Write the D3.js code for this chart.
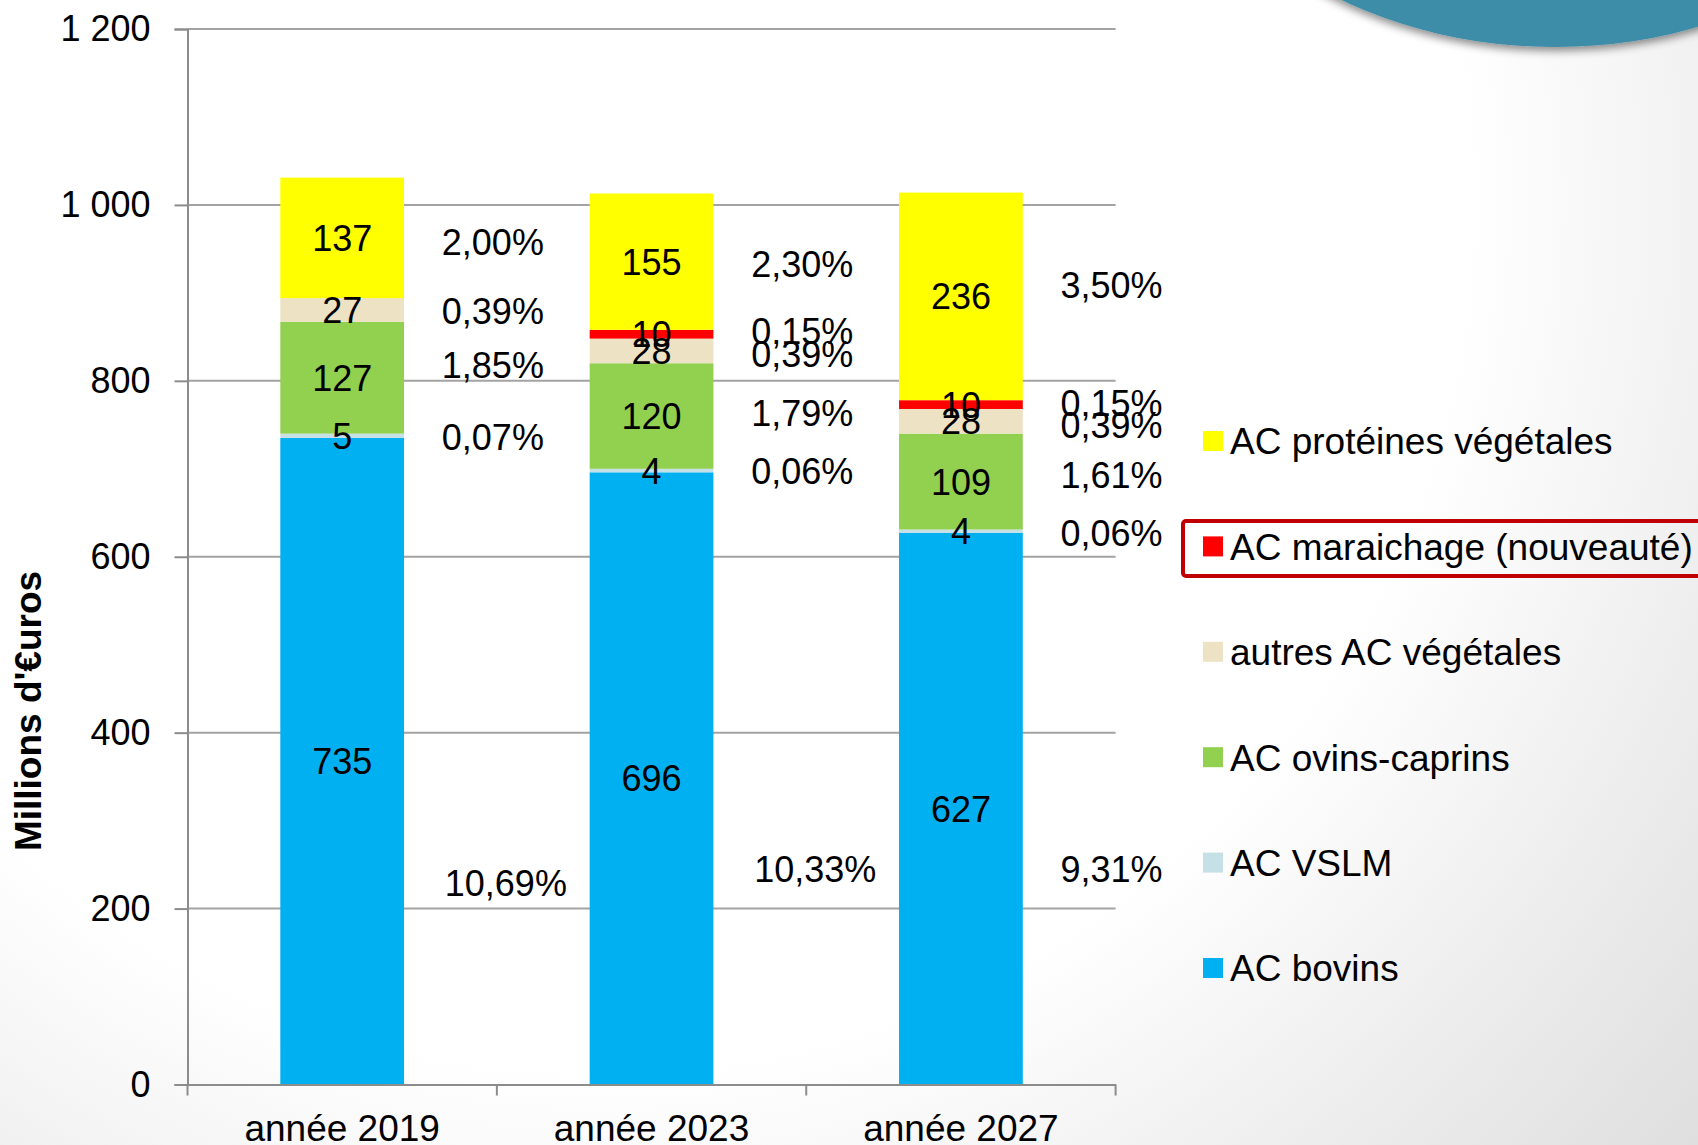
<!DOCTYPE html>
<html>
<head>
<meta charset="utf-8">
<script src="https://cdn.jsdelivr.net/npm/d3@7"></script>
<style>
  html, body { margin: 0; padding: 0; background: #fff; }
  text { font-family: "Liberation Sans", Arial, sans-serif; fill: #000; }
</style>
</head>
<body>
<div id="container"></div>
<script>
/* CONSTANTS AND GLOBALS */
const width = 1698,
  height = 1145,
  margin = { top: 29, bottom: 60.5, left: 187.5, right: 582.4 };

/* DATA */
const years = ["année 2019", "année 2023", "année 2027"];
const seriesNames = ["AC bovins", "AC VSLM", "AC ovins-caprins", "autres AC végétales", "AC maraichage (nouveauté)", "AC protéines végétales"];
const seriesColors = ["#00b0f0", "#c6e0e8", "#92d050", "#ede3c4", "#ff0000", "#ffff00"];

// values per series (millions d'euros), one entry per year
const bovins = [735, 696, 627];
const vslm = [5, 4, 4];
const ovins = [127, 120, 109];
const autres = [27, 28, 28];
const maraichage = [0, 10, 10];
const proteines = [137, 155, 236];

// percentage labels shown beside each bar
const pctBovins = ["10,69%", "10,33%", "9,31%"];
const pctVslm = ["0,07%", "0,06%", "0,06%"];
const pctOvins = ["1,85%", "1,79%", "1,61%"];
const pctAutres = ["0,39%", "0,39%", "0,39%"];
const pctMaraichage = [null, "0,15%", "0,15%"];
const pctProteines = ["2,00%", "2,30%", "3,50%"];

// level (in millions) where each percentage label sits
const pctLevelBovins = [229, 245, 245];
const pctLevelVslm = [736, 698, 627];
const pctLevelOvins = [818, 763, 693];
const pctLevelAutres = [879, 830, 750];
const pctLevelMaraichage = [null, 857, 775];
const pctLevelProteines = [958, 933, 909];

const yTicks = [0, 200, 400, 600, 800, 1000, 1200];

const values = [bovins, vslm, ovins, autres, maraichage, proteines];
const pcts = [pctBovins, pctVslm, pctOvins, pctAutres, pctMaraichage, pctProteines];
const pctLevels = [pctLevelBovins, pctLevelVslm, pctLevelOvins, pctLevelAutres, pctLevelMaraichage, pctLevelProteines];

const table = years.map((y, i) => {
  const row = { year: y };
  seriesNames.forEach((s, j) => row[s] = values[j][i]);
  return row;
});
const stacked = d3.stack().keys(seriesNames)(table);

// SCALES
const xScale = d3.scaleBand()
  .domain(years)
  .range([margin.left, width - margin.right])
  .paddingInner(0.6)
  .paddingOuter(0.3);

const yScale = d3.scaleLinear()
  .domain([0, 1200])
  .range([height - margin.bottom, margin.top]);

const fr = d3.formatLocale({ decimal: ",", thousands: " ", grouping: [3], currency: ["", " €"] });

// CREATE SVG ELEMENT
const svg = d3.select("#container")
  .append("svg")
  .attr("width", width)
  .attr("height", height);

const defs = svg.append("defs");
const bg = defs.append("radialGradient")
  .attr("id", "bg")
  .attr("gradientUnits", "userSpaceOnUse")
  .attr("cx", 600).attr("cy", 200).attr("r", 1500);
bg.append("stop").attr("offset", "0.58").attr("stop-color", "#ffffff");
bg.append("stop").attr("offset", "0.8").attr("stop-color", "#ececec");
bg.append("stop").attr("offset", "1").attr("stop-color", "#dcdcdc");

const shadow = defs.append("filter").attr("id", "shadow")
  .attr("x", "-20%").attr("y", "-20%").attr("width", "140%").attr("height", "140%");
shadow.append("feDropShadow")
  .attr("dx", 0).attr("dy", 4).attr("stdDeviation", 4)
  .attr("flood-color", "#000").attr("flood-opacity", 0.45);

svg.append("rect")
  .attr("width", width).attr("height", height)
  .attr("fill", "url(#bg)");

// decorative ellipse, top right
svg.append("ellipse")
  .attr("cx", 1555).attr("cy", -257)
  .attr("rx", 400).attr("ry", 304)
  .attr("fill", "#3d8ca8")
  .attr("filter", "url(#shadow)");

// GRIDLINES
svg.append("g")
  .selectAll("line")
  .data(yTicks.filter(d => d > 0))
  .join("line")
    .attr("x1", margin.left)
    .attr("x2", width - margin.right)
    .attr("y1", d => yScale(d))
    .attr("y2", d => yScale(d))
    .attr("stroke", "#a3a3a3")
    .attr("stroke-width", 2);

// BARS
const bw = xScale.bandwidth();
svg.append("g")
  .selectAll("g")
  .data(stacked)
  .join("g")
    .attr("fill", (d, i) => seriesColors[i])
  .selectAll("rect")
  .data(d => d)
  .join("rect")
    .attr("x", d => xScale(d.data.year))
    .attr("width", bw)
    .attr("y", d => yScale(d[1]))
    .attr("height", d => yScale(d[0]) - yScale(d[1]));

// AXES
const yAxis = d3.axisLeft(yScale)
  .tickValues(yTicks)
  .tickSize(13)
  .tickPadding(24)
  .tickFormat(fr.format(","));

const yG = svg.append("g")
  .attr("transform", `translate(${margin.left},0)`)
  .call(yAxis);

const xAxis = d3.axisBottom(xScale).tickSize(0).tickFormat("");
const xG = svg.append("g")
  .attr("transform", `translate(0,${height - margin.bottom})`)
  .call(xAxis);

// category boundary ticks
const step = xScale.step();
const bounds = [xScale.range()[0]].concat(years.map(y => xScale(y) - xScale.paddingInner() * step / 2 + step));
xG.selectAll(".bound")
  .data(bounds)
  .join("line")
    .attr("class", "bound")
    .attr("x1", d => d).attr("x2", d => d)
    .attr("y1", 0).attr("y2", 11)
    .attr("stroke", "#8c8c8c").attr("stroke-width", 2);

[yG, xG].forEach(g => {
  g.select(".domain").attr("stroke", "#8c8c8c").attr("stroke-width", 2);
  g.selectAll(".tick line").attr("stroke", "#8c8c8c").attr("stroke-width", 2);
  g.selectAll("text").attr("font-size", 36).attr("fill", "#000")
    .attr("font-family", "'Liberation Sans', Arial, sans-serif");
});

svg.append("g")
  .selectAll("text")
  .data(years)
  .join("text")
    .attr("x", d => xScale(d) + bw / 2)
    .attr("y", 1141)
    .attr("text-anchor", "middle")
    .attr("font-size", 37)
    .text(d => d);

svg.append("text")
  .attr("transform", `translate(41,711) rotate(-90)`)
  .attr("text-anchor", "middle")
  .attr("font-size", 37)
  .attr("font-weight", "bold")
  .text("Millions d'€uros");

// VALUE LABELS (inside bars)
svg.append("g")
  .selectAll("g")
  .data(stacked)
  .join("g")
  .selectAll("text")
  .data(d => d.filter(p => p[1] - p[0] > 0))
  .join("text")
    .attr("x", d => xScale(d.data.year) + bw / 2)
    .attr("y", d => yScale((d[0] + d[1]) / 2))
    .attr("dy", "0.36em")
    .attr("text-anchor", "middle")
    .attr("font-size", 36)
    .text(d => d[1] - d[0]);

// PERCENT LABELS (beside bars)
const pctData = [];
seriesNames.forEach((s, j) => years.forEach((y, i) => {
  if (pcts[j][i]) pctData.push({ year: y, series: j, text: pcts[j][i], level: pctLevels[j][i] });
}));
svg.append("g")
  .selectAll("text")
  .data(pctData)
  .join("text")
    .attr("x", d => xScale(d.year) + bw + (step - bw) / 2 + (d.series === 0 && d.year !== years[2] ? 9 : -4))
    .attr("y", d => yScale(d.level))
    .attr("dy", "0.36em")
    .attr("text-anchor", "middle")
    .attr("font-size", 36)
    .text(d => d.text);

// LEGEND
const legendOrder = [5, 4, 3, 2, 1, 0];
const legend = svg.append("g")
  .selectAll("g")
  .data(legendOrder)
  .join("g")
    .attr("transform", (d, i) => `translate(1203,${441 + i * 105.4})`);

legend.append("rect")
  .attr("x", 0).attr("y", -10)
  .attr("width", 20).attr("height", 20)
  .attr("fill", d => seriesColors[d]);

legend.append("text")
  .attr("x", 27)
  .attr("dy", "0.36em")
  .attr("font-size", 37)
  .text(d => seriesNames[d]);

// highlight box round "maraichage"
svg.append("rect")
  .attr("x", 1183).attr("y", 521)
  .attr("width", 530).attr("height", 55)
  .attr("rx", 3)
  .attr("fill", "none")
  .attr("stroke", "#c00000")
  .attr("stroke-width", 4);
</script>
</body>
</html>
